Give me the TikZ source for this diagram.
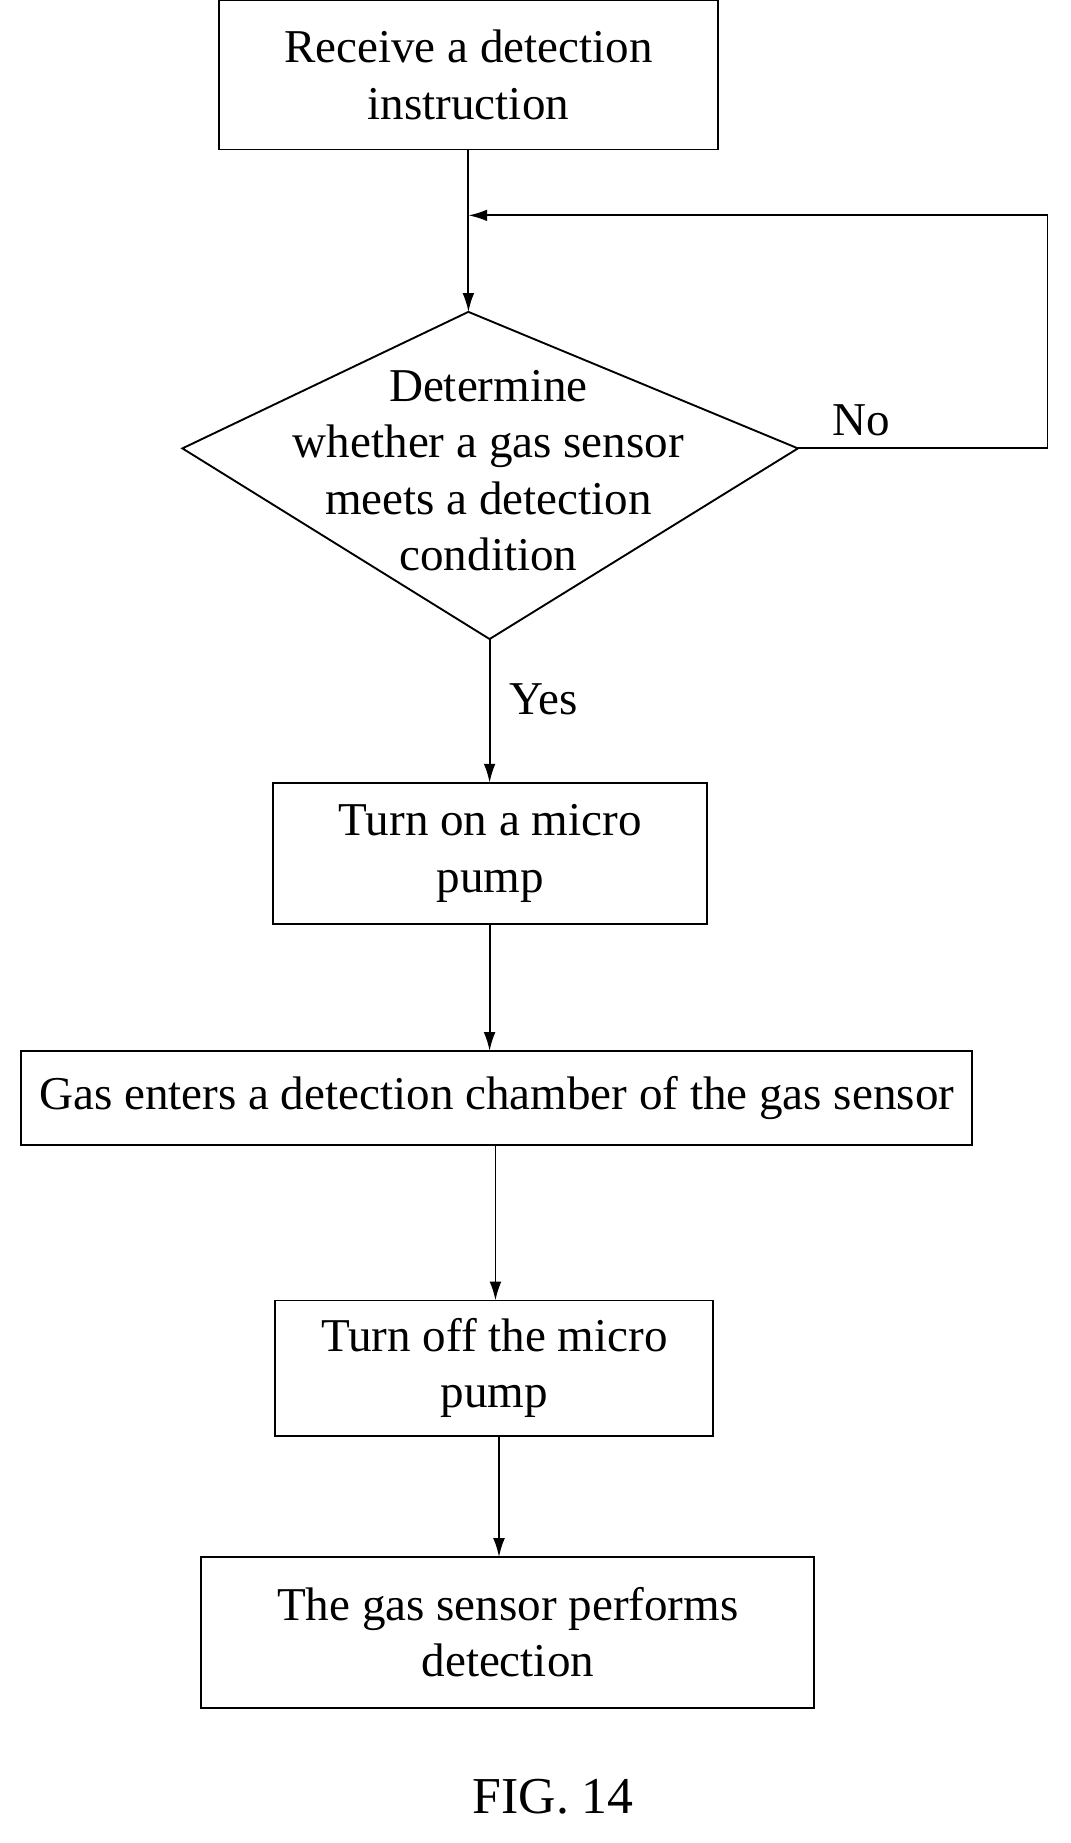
\documentclass[tikz,border=0pt]{standalone}
\usepackage{fontspec}
\setmainfont{Liberation Serif}
\usetikzlibrary{arrows.meta,shapes.geometric}
\begin{document}
\begin{tikzpicture}[x=0.5pt,y=-0.5pt,
  box/.style={draw,line width=0.8pt,align=center,font=\fontsize{20}{24}\selectfont,inner sep=0pt},
  lbl/.style={font=\fontsize{20}{24}\selectfont},
  arr/.style={draw,line width=0.8pt,-{Latex[length=8pt,width=5pt]}}]
\useasboundingbox (0,0) rectangle (910,1566);
\node[box,minimum width=212pt,minimum height=63.5pt] (b1) at (398,63.5) {Receive a detection\\instruction};
\node[box,minimum width=184.5pt,minimum height=60pt] (b2) at (416.5,725) {Turn on a micro\\pump};
\node[box,minimum width=404pt,minimum height=40pt] (b3) at (422,933) {Gas enters a detection chamber of the gas sensor};
\node[box,minimum width=186pt,minimum height=57.5pt] (b4) at (420,1162.5) {Turn off the micro\\pump};
\node[box,minimum width=260.5pt,minimum height=64pt] (b5) at (431.5,1387) {The gas sensor performs\\detection};
\coordinate (dt) at (398,265);
\coordinate (dr) at (678,381);
\coordinate (db) at (416,543);
\coordinate (dl) at (155,381);
\draw[line width=0.8pt] (dt) -- (dr) -- (db) -- (dl) -- cycle;
\node[box,draw=none] (dtext) at (415,400) {Determine\\whether a gas sensor\\meets a detection\\condition};
\coordinate (j) at (398,183);
\coordinate (c1) at (890,381);
\coordinate (c2) at (890,183);
\draw[arr] (398,127) -- (dt);
\draw[arr] (dr) -- (c1) -- (c2) -- (j);
\node[lbl] (no) at (732,357) {No};
\draw[arr] (db) -- (416,665);
\node[lbl] (yes) at (462,594) {Yes};
\draw[arr] (416,785) -- (416,893);
\draw[arr] (421,973) -- (421,1105);
\draw[arr] (424,1220) -- (424,1323);
\node[font=\fontsize{22}{24}\selectfont] (fig) at (470,1527) {FIG. 14};
\end{tikzpicture}
\end{document}
